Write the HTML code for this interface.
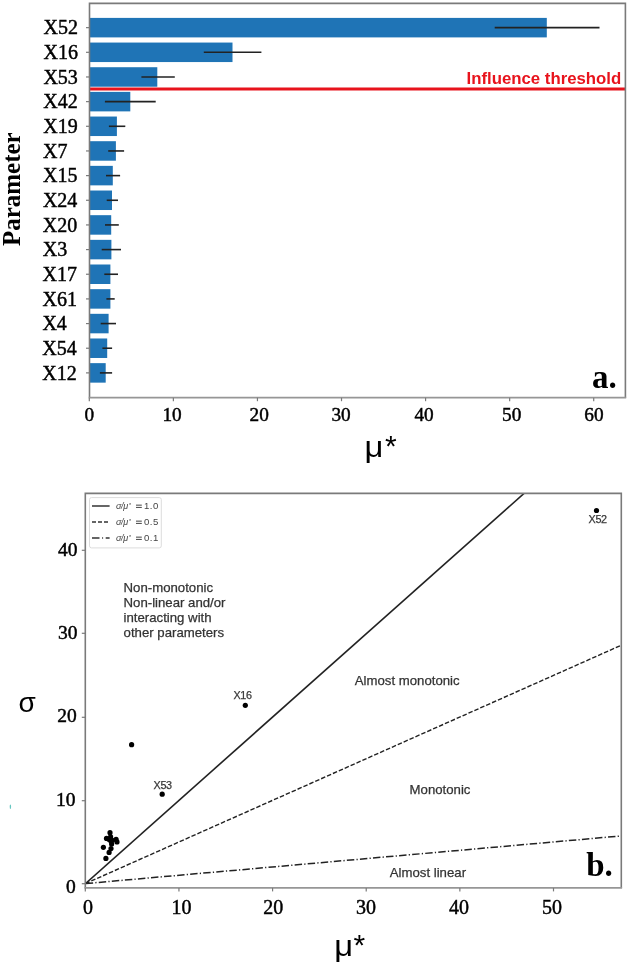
<!DOCTYPE html>
<html><head><meta charset="utf-8"><style>
html,body{margin:0;padding:0;background:#fff;}
body{width:629px;height:965px;overflow:hidden;}
svg{display:block;filter:blur(0.35px);}
.serif{font-family:"Liberation Serif",serif;}
.tk{stroke:#000;stroke-width:0.45px;}
.rg{stroke:#333;stroke-width:0.25px;}
.sans{font-family:"Liberation Sans",sans-serif;}
</style></head><body>
<svg width="629" height="965" viewBox="0 0 629 965">
<rect x="0" y="0" width="629" height="965" fill="#fff"/>

<rect x="89.5" y="17.90" width="457.30" height="19.5" fill="#1f74b6"/>
<rect x="89.5" y="42.56" width="143.00" height="19.5" fill="#1f74b6"/>
<rect x="89.5" y="67.22" width="67.80" height="19.5" fill="#1f74b6"/>
<rect x="89.5" y="91.88" width="40.80" height="19.5" fill="#1f74b6"/>
<rect x="89.5" y="116.54" width="27.40" height="19.5" fill="#1f74b6"/>
<rect x="89.5" y="141.20" width="26.40" height="19.5" fill="#1f74b6"/>
<rect x="89.5" y="165.86" width="23.30" height="19.5" fill="#1f74b6"/>
<rect x="89.5" y="190.52" width="22.50" height="19.5" fill="#1f74b6"/>
<rect x="89.5" y="215.18" width="21.70" height="19.5" fill="#1f74b6"/>
<rect x="89.5" y="239.84" width="21.90" height="19.5" fill="#1f74b6"/>
<rect x="89.5" y="264.50" width="20.90" height="19.5" fill="#1f74b6"/>
<rect x="89.5" y="289.16" width="20.90" height="19.5" fill="#1f74b6"/>
<rect x="89.5" y="313.82" width="19.10" height="19.5" fill="#1f74b6"/>
<rect x="89.5" y="338.48" width="17.70" height="19.5" fill="#1f74b6"/>
<rect x="89.5" y="363.14" width="16.20" height="19.5" fill="#1f74b6"/>
<line x1="494.70" y1="27.65" x2="599.50" y2="27.65" stroke="#222" stroke-width="1.6"/>
<line x1="203.80" y1="52.31" x2="261.40" y2="52.31" stroke="#222" stroke-width="1.6"/>
<line x1="141.40" y1="76.97" x2="174.80" y2="76.97" stroke="#222" stroke-width="1.6"/>
<line x1="104.90" y1="101.63" x2="155.70" y2="101.63" stroke="#222" stroke-width="1.6"/>
<line x1="108.90" y1="126.29" x2="125.30" y2="126.29" stroke="#222" stroke-width="1.6"/>
<line x1="108.20" y1="150.95" x2="124.10" y2="150.95" stroke="#222" stroke-width="1.6"/>
<line x1="106.00" y1="175.61" x2="120.10" y2="175.61" stroke="#222" stroke-width="1.6"/>
<line x1="106.70" y1="200.27" x2="118.00" y2="200.27" stroke="#222" stroke-width="1.6"/>
<line x1="105.00" y1="224.93" x2="118.80" y2="224.93" stroke="#222" stroke-width="1.6"/>
<line x1="101.70" y1="249.59" x2="121.00" y2="249.59" stroke="#222" stroke-width="1.6"/>
<line x1="104.30" y1="274.25" x2="118.00" y2="274.25" stroke="#222" stroke-width="1.6"/>
<line x1="106.40" y1="298.91" x2="114.70" y2="298.91" stroke="#222" stroke-width="1.6"/>
<line x1="100.70" y1="323.57" x2="116.00" y2="323.57" stroke="#222" stroke-width="1.6"/>
<line x1="102.40" y1="348.23" x2="112.10" y2="348.23" stroke="#222" stroke-width="1.6"/>
<line x1="99.90" y1="372.89" x2="112.10" y2="372.89" stroke="#222" stroke-width="1.6"/>
<line x1="89.5" y1="89.1" x2="625.4" y2="89.1" stroke="#e8131c" stroke-width="3"/>
<text x="466.5" y="84" class="sans" font-weight="bold" font-size="16.8" fill="#e8131c">Influence threshold</text>
<path d="M89.5,397.7 L89.5,3.4 L625.4,3.4 L625.4,397.7" fill="none" stroke="#7a7a7a" stroke-width="1.6"/>
<line x1="88.7" y1="397.7" x2="626.1999999999999" y2="397.7" stroke="#969696" stroke-width="1.8"/>
<line x1="86.0" y1="27.65" x2="89.5" y2="27.65" stroke="#7a7a7a" stroke-width="1.2"/>
<text x="43.60" y="34.45" class="serif tk" font-size="20" fill="#000">X52</text>
<line x1="86.0" y1="52.31" x2="89.5" y2="52.31" stroke="#7a7a7a" stroke-width="1.2"/>
<text x="43.50" y="59.11" class="serif tk" font-size="20" fill="#000">X16</text>
<line x1="86.0" y1="76.97" x2="89.5" y2="76.97" stroke="#7a7a7a" stroke-width="1.2"/>
<text x="43.40" y="83.77" class="serif tk" font-size="20" fill="#000">X53</text>
<line x1="86.0" y1="101.63" x2="89.5" y2="101.63" stroke="#7a7a7a" stroke-width="1.2"/>
<text x="43.30" y="108.43" class="serif tk" font-size="20" fill="#000">X42</text>
<line x1="86.0" y1="126.29" x2="89.5" y2="126.29" stroke="#7a7a7a" stroke-width="1.2"/>
<text x="43.20" y="133.09" class="serif tk" font-size="20" fill="#000">X19</text>
<line x1="86.0" y1="150.95" x2="89.5" y2="150.95" stroke="#7a7a7a" stroke-width="1.2"/>
<text x="43.10" y="157.75" class="serif tk" font-size="20" fill="#000">X7</text>
<line x1="86.0" y1="175.61" x2="89.5" y2="175.61" stroke="#7a7a7a" stroke-width="1.2"/>
<text x="43.00" y="182.41" class="serif tk" font-size="20" fill="#000">X15</text>
<line x1="86.0" y1="200.27" x2="89.5" y2="200.27" stroke="#7a7a7a" stroke-width="1.2"/>
<text x="42.90" y="207.07" class="serif tk" font-size="20" fill="#000">X24</text>
<line x1="86.0" y1="224.93" x2="89.5" y2="224.93" stroke="#7a7a7a" stroke-width="1.2"/>
<text x="42.80" y="231.73" class="serif tk" font-size="20" fill="#000">X20</text>
<line x1="86.0" y1="249.59" x2="89.5" y2="249.59" stroke="#7a7a7a" stroke-width="1.2"/>
<text x="42.70" y="256.39" class="serif tk" font-size="20" fill="#000">X3</text>
<line x1="86.0" y1="274.25" x2="89.5" y2="274.25" stroke="#7a7a7a" stroke-width="1.2"/>
<text x="42.60" y="281.05" class="serif tk" font-size="20" fill="#000">X17</text>
<line x1="86.0" y1="298.91" x2="89.5" y2="298.91" stroke="#7a7a7a" stroke-width="1.2"/>
<text x="42.50" y="305.71" class="serif tk" font-size="20" fill="#000">X61</text>
<line x1="86.0" y1="323.57" x2="89.5" y2="323.57" stroke="#7a7a7a" stroke-width="1.2"/>
<text x="42.40" y="330.37" class="serif tk" font-size="20" fill="#000">X4</text>
<line x1="86.0" y1="348.23" x2="89.5" y2="348.23" stroke="#7a7a7a" stroke-width="1.2"/>
<text x="42.30" y="355.03" class="serif tk" font-size="20" fill="#000">X54</text>
<line x1="86.0" y1="372.89" x2="89.5" y2="372.89" stroke="#7a7a7a" stroke-width="1.2"/>
<text x="42.20" y="379.69" class="serif tk" font-size="20" fill="#000">X12</text>
<line x1="89.30" y1="397.7" x2="89.30" y2="401.2" stroke="#7a7a7a" stroke-width="1.2"/>
<text x="89.40" y="420.8" class="serif tk" font-size="19.3" text-anchor="middle" fill="#000">0</text>
<line x1="173.37" y1="397.7" x2="173.37" y2="401.2" stroke="#7a7a7a" stroke-width="1.2"/>
<text x="172.10" y="420.8" class="serif tk" font-size="19.3" text-anchor="middle" fill="#000">10</text>
<line x1="257.44" y1="397.7" x2="257.44" y2="401.2" stroke="#7a7a7a" stroke-width="1.2"/>
<text x="259.20" y="420.8" class="serif tk" font-size="19.3" text-anchor="middle" fill="#000">20</text>
<line x1="341.51" y1="397.7" x2="341.51" y2="401.2" stroke="#7a7a7a" stroke-width="1.2"/>
<text x="341.10" y="420.8" class="serif tk" font-size="19.3" text-anchor="middle" fill="#000">30</text>
<line x1="425.58" y1="397.7" x2="425.58" y2="401.2" stroke="#7a7a7a" stroke-width="1.2"/>
<text x="424.10" y="420.8" class="serif tk" font-size="19.3" text-anchor="middle" fill="#000">40</text>
<line x1="509.65" y1="397.7" x2="509.65" y2="401.2" stroke="#7a7a7a" stroke-width="1.2"/>
<text x="511.70" y="420.8" class="serif tk" font-size="19.3" text-anchor="middle" fill="#000">50</text>
<line x1="593.72" y1="397.7" x2="593.72" y2="401.2" stroke="#7a7a7a" stroke-width="1.2"/>
<text x="594.00" y="420.8" class="serif tk" font-size="19.3" text-anchor="middle" fill="#000">60</text>
<text transform="translate(19.6,189.2) rotate(-90)" class="serif" font-weight="bold" font-size="25" text-anchor="middle" fill="#000">Parameter</text>
<text transform="translate(364.5,457.2) scale(1.13,1)" class="sans" font-size="29" fill="#000">μ</text>
<text x="385" y="455.5" class="sans" font-size="30" fill="#000">*</text>
<text x="592" y="388" class="serif" font-weight="bold" font-size="33" fill="#000">a.</text>
<clipPath id="c2"><rect x="85.3" y="493.4" width="536.00" height="394.50"/></clipPath>
<g clip-path="url(#c2)">
<line x1="85.4" y1="883.6" x2="630.67" y2="398.56" stroke="#222" stroke-width="1.6"/>
<line x1="85.4" y1="883.6" x2="630.67" y2="641.08" stroke="#222" stroke-width="1.4" stroke-dasharray="4.5 1.95"/>
<line x1="85.4" y1="883.6" x2="630.67" y2="835.10" stroke="#222" stroke-width="1.5" stroke-dasharray="7.45 2.22 1.22 2.22" stroke-dashoffset="-0.3"/>
</g>
<circle cx="110.0" cy="832.7" r="2.6" fill="#000"/>
<circle cx="106.5" cy="838.4" r="2.6" fill="#000"/>
<circle cx="111.0" cy="841.3" r="2.6" fill="#000"/>
<circle cx="116.1" cy="839.4" r="2.6" fill="#000"/>
<circle cx="117.0" cy="841.9" r="2.6" fill="#000"/>
<circle cx="112.3" cy="840.3" r="2.6" fill="#000"/>
<circle cx="108.8" cy="839.3" r="2.6" fill="#000"/>
<circle cx="110.6" cy="836.9" r="2.6" fill="#000"/>
<circle cx="111.6" cy="844.0" r="2.6" fill="#000"/>
<circle cx="103.4" cy="847.3" r="2.6" fill="#000"/>
<circle cx="111.0" cy="848.6" r="2.6" fill="#000"/>
<circle cx="109.1" cy="852.4" r="2.6" fill="#000"/>
<circle cx="105.9" cy="858.4" r="2.6" fill="#000"/>
<circle cx="131.6" cy="744.7" r="2.6" fill="#000"/>
<circle cx="162.2" cy="794.2" r="2.6" fill="#000"/>
<circle cx="245.3" cy="705.3" r="2.6" fill="#000"/>
<circle cx="596.5" cy="510.5" r="2.6" fill="#000"/>
<text x="153.6" y="788.5" class="sans rg" font-size="10.8" letter-spacing="-0.4" fill="#3a3a3a">X53</text>
<text x="233.5" y="698.6" class="sans rg" font-size="10.8" letter-spacing="-0.4" fill="#3a3a3a">X16</text>
<text x="588.6" y="522.8" class="sans rg" font-size="10.8" letter-spacing="-0.4" fill="#3a3a3a">X52</text>
<text x="123.6" y="591.5" class="sans rg" font-size="13.2" fill="#333">Non-monotonic</text>
<text x="123.6" y="606.8" class="sans rg" font-size="13.2" fill="#333">Non-linear and/or</text>
<text x="123.6" y="622.1" class="sans rg" font-size="13.2" fill="#333">interacting with</text>
<text x="123.6" y="637.4" class="sans rg" font-size="13.2" fill="#333">other parameters</text>
<text x="354.8" y="685.2" class="sans rg" font-size="13.2" fill="#333">Almost monotonic</text>
<text x="409.6" y="794.3" class="sans rg" font-size="13.2" fill="#333">Monotonic</text>
<text x="389.8" y="876.5" class="sans rg" font-size="13.2" fill="#333">Almost linear</text>
<rect x="89.5" y="497.6" width="71.8" height="50.3" rx="2" fill="#fff" fill-opacity="0.8" stroke="#dcdcdc" stroke-width="1"/>
<line x1="92" y1="506" x2="109.6" y2="506" stroke="#333" stroke-width="1.5"/>
<line x1="92" y1="522" x2="109.6" y2="522" stroke="#333" stroke-width="1.5" stroke-dasharray="4 2"/>
<line x1="92" y1="538" x2="109.6" y2="538" stroke="#333" stroke-width="1.5" stroke-dasharray="7.5 2.6 1 2.6"/>
<text x="116.0" y="509.2" class="sans" font-size="9" font-style="italic" letter-spacing="-0.4" fill="#444">σ/μ</text>
<text x="129.0" y="506.59999999999997" class="sans" font-size="5.5" fill="#444">*</text>
<rect x="136" y="504.59999999999997" width="5.8" height="1.1" fill="#555"/><rect x="136" y="506.9" width="5.8" height="1.1" fill="#555"/>
<text x="144" y="509.2" class="sans" font-size="9.6" letter-spacing="0.5" fill="#444">1.0</text>
<text x="116.0" y="525.2" class="sans" font-size="9" font-style="italic" letter-spacing="-0.4" fill="#444">σ/μ</text>
<text x="129.0" y="522.6" class="sans" font-size="5.5" fill="#444">*</text>
<rect x="136" y="520.6" width="5.8" height="1.1" fill="#555"/><rect x="136" y="522.9000000000001" width="5.8" height="1.1" fill="#555"/>
<text x="144" y="525.2" class="sans" font-size="9.6" letter-spacing="0.5" fill="#444">0.5</text>
<text x="116.0" y="541.2" class="sans" font-size="9" font-style="italic" letter-spacing="-0.4" fill="#444">σ/μ</text>
<text x="129.0" y="538.6" class="sans" font-size="5.5" fill="#444">*</text>
<rect x="136" y="536.6" width="5.8" height="1.1" fill="#555"/><rect x="136" y="538.9000000000001" width="5.8" height="1.1" fill="#555"/>
<text x="144" y="541.2" class="sans" font-size="9.6" letter-spacing="0.5" fill="#444">0.1</text>
<path d="M85.3,887.9 L85.3,493.4 L621.3,493.4 L621.3,887.9" fill="none" stroke="#7a7a7a" stroke-width="1.6"/>
<line x1="84.5" y1="887.9" x2="622.0999999999999" y2="887.9" stroke="#969696" stroke-width="1.8"/>
<line x1="81.8" y1="883.7" x2="85.3" y2="883.7" stroke="#7a7a7a" stroke-width="1.2"/>
<text x="75.7" y="893.0" class="serif tk" font-size="19.5" text-anchor="end" fill="#000">0</text>
<line x1="81.8" y1="800.7" x2="85.3" y2="800.7" stroke="#7a7a7a" stroke-width="1.2"/>
<text x="75.39999999999999" y="806.3" class="serif tk" font-size="19.5" text-anchor="end" fill="#000">10</text>
<line x1="81.8" y1="717.3" x2="85.3" y2="717.3" stroke="#7a7a7a" stroke-width="1.2"/>
<text x="76.8" y="722.3" class="serif tk" font-size="19.5" text-anchor="end" fill="#000">20</text>
<line x1="81.8" y1="633.3" x2="85.3" y2="633.3" stroke="#7a7a7a" stroke-width="1.2"/>
<text x="77.39999999999999" y="638.9" class="serif tk" font-size="19.5" text-anchor="end" fill="#000">30</text>
<line x1="81.8" y1="550.3" x2="85.3" y2="550.3" stroke="#7a7a7a" stroke-width="1.2"/>
<text x="77.5" y="556.3" class="serif tk" font-size="19.5" text-anchor="end" fill="#000">40</text>
<line x1="85.30" y1="887.9" x2="85.30" y2="891.4" stroke="#7a7a7a" stroke-width="1.2"/>
<text x="87.90" y="914.4" class="serif tk" font-size="20" text-anchor="middle" fill="#000">0</text>
<line x1="178.94" y1="887.9" x2="178.94" y2="891.4" stroke="#7a7a7a" stroke-width="1.2"/>
<text x="181.60" y="914.4" class="serif tk" font-size="20" text-anchor="middle" fill="#000">10</text>
<line x1="272.58" y1="887.9" x2="272.58" y2="891.4" stroke="#7a7a7a" stroke-width="1.2"/>
<text x="273.20" y="914.4" class="serif tk" font-size="20" text-anchor="middle" fill="#000">20</text>
<line x1="366.22" y1="887.9" x2="366.22" y2="891.4" stroke="#7a7a7a" stroke-width="1.2"/>
<text x="366.00" y="914.4" class="serif tk" font-size="20" text-anchor="middle" fill="#000">30</text>
<line x1="459.86" y1="887.9" x2="459.86" y2="891.4" stroke="#7a7a7a" stroke-width="1.2"/>
<text x="458.90" y="914.4" class="serif tk" font-size="20" text-anchor="middle" fill="#000">40</text>
<line x1="553.50" y1="887.9" x2="553.50" y2="891.4" stroke="#7a7a7a" stroke-width="1.2"/>
<text x="551.90" y="914.4" class="serif tk" font-size="20" text-anchor="middle" fill="#000">50</text>
<text x="18.5" y="711.8" class="sans" font-size="28" fill="#000">σ</text>
<text transform="translate(334.3,956.3) scale(1.13,1)" class="sans" font-size="29" fill="#000">μ</text>
<text x="353.5" y="954.5" class="sans" font-size="30" fill="#000">*</text>
<text x="586.2" y="875.8" class="serif" font-weight="bold" font-size="33" fill="#000">b.</text>
<ellipse cx="10.4" cy="806.8" rx="0.7" ry="2.2" fill="#3fb8b0" opacity="0.8"/>
</svg></body></html>
